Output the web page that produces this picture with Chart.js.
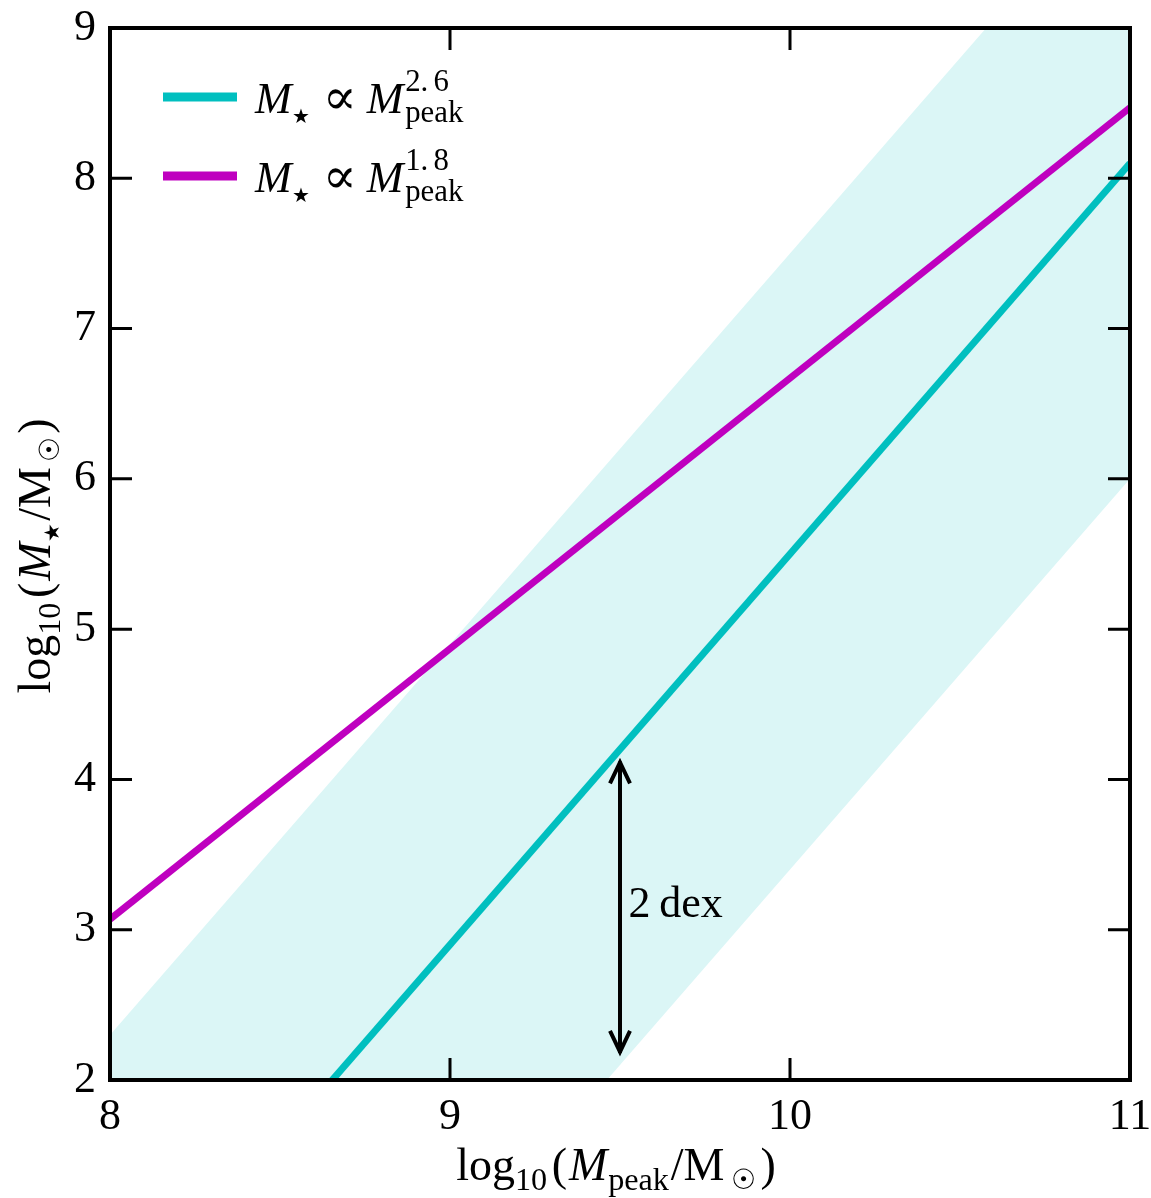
<!DOCTYPE html>
<html><head><meta charset="utf-8">
<script src="https://cdn.jsdelivr.net/npm/chart.js@4.4.0/dist/chart.umd.min.js"></script>
<style>html,body{margin:0;padding:0;background:#fff}#wrap{width:1151px;height:1198px;position:relative}</style>
</head><body><div id="wrap"><canvas id="c" width="1151" height="1198"></canvas></div>
<script>
// ---- data ----
const xTicks = [8, 9, 10, 11];
const yTicks = [2, 3, 4, 5, 6, 7, 8, 9];
const lineX = [8, 11];
const cyanY = [0.3, 8.1];        // M* ∝ Mpeak^2.6
const magentaY = [3.07, 8.47];   // M* ∝ Mpeak^1.8
const bandUpperY = [2.3, 10.1];
const bandLowerY = [-1.8, 6.0];
const arrowX = 9.5;
const arrowY = [2.18, 4.12];
const dexLabel = { x: 9.525, y: 3.16, text: '2\u2009dex' };
const seriesColors = ['#00bfbf', '#bf00bf'];
const legendExps = [['2.', '6'], ['1.', '8']];

const SERIF = '"Liberation Serif", "DejaVu Serif", serif';
const FS = 44;
const TFS = 46;
function font(size, italic, fam) { return (italic ? 'italic ' : '') + size + 'px ' + (fam || SERIF); }

function rich(ctx, segs, size, draw, x, y) {
  let cx = x || 0;
  for (const s of segs) {
    if (s.gap) { cx += s.gap * size; continue; }
    if (s.stack) {
      const fs = size * 0.7; ctx.font = font(fs, false);
      let sx = cx;
      for (let k = 0; k < s.sup.length; k++) {
        if (draw) ctx.fillText(s.sup[k], sx, y - size * 0.5);
        sx += ctx.measureText(s.sup[k]).width + (k < s.sup.length - 1 ? size * 0.12 : 0);
      }
      const w = Math.max(sx - cx, ctx.measureText(s.sub).width);
      if (draw) ctx.fillText(s.sub, cx, y + size * 0.2);
      cx += w; continue;
    }
    const sc = s.scale || (s.pos ? 0.7 : 1);
    ctx.font = font(size * sc, s.i, s.fam);
    const dy = s.pos === 'sub' ? size * (s.off || 0.22) : (s.pos === 'sup' ? -size * 0.45 : (s.dy || 0) * size);
    if (draw) ctx.fillText(s.t, cx, y + dy);
    cx += ctx.measureText(s.t).width;
  }
  return cx - (x || 0);
}

const xTitleSegs = [{t:'log'},{t:'10',pos:'sub'},{gap:0.1},{t:'('},{gap:0.04},{t:'M',i:true},{gap:0.02},{t:'peak',pos:'sub'},{gap:0.04},{t:'/M'},{gap:0.14},{t:'\u2609',pos:'sub',scale:0.6,off:0.2},{gap:0.1},{t:')'}];
const yTitleSegs = [{t:'log'},{t:'10',pos:'sub'},{gap:0.1},{t:'('},{gap:0.04},{t:'M',i:true},{t:'\u2605',pos:'sub',scale:0.45,off:0.2},{gap:0.06},{t:'/M'},{gap:0.1},{t:'\u2609',pos:'sub',scale:0.6,off:0.2},{gap:0.08},{t:')'}];
function legendSegs(exp) {
  return [{t:'M',i:true},{t:'\u2605',pos:'sub',scale:0.45,off:0.22},{gap:0.3},{t:'\u221D',scale:1.15,fam:'"DejaVu Serif", serif',dy:0.02},{gap:0.22},{t:'M',i:true},{gap:0.04},{stack:true,sup:exp,sub:'peak'}];
}

const decor = {
  id: 'decor',
  afterDatasetsDraw(chart) {
    const { ctx, chartArea: a, scales: { x, y } } = chart;
    ctx.save();
    ctx.strokeStyle = '#000'; ctx.fillStyle = '#000';
    // arrow
    const ax = x.getPixelForValue(arrowX);
    const y0 = y.getPixelForValue(arrowY[0]), y1 = y.getPixelForValue(arrowY[1]);
    ctx.lineWidth = 4; ctx.lineCap = 'butt'; ctx.lineJoin = 'miter';
    ctx.beginPath(); ctx.moveTo(ax, y0); ctx.lineTo(ax, y1); ctx.stroke();
    ctx.beginPath();
    ctx.moveTo(ax - 10, y1 + 22); ctx.lineTo(ax, y1 + 1); ctx.lineTo(ax + 10, y1 + 22);
    ctx.moveTo(ax - 10, y0 - 22); ctx.lineTo(ax, y0 - 1); ctx.lineTo(ax + 10, y0 - 22);
    ctx.stroke();
    ctx.font = font(44, false); ctx.textBaseline = 'middle'; ctx.textAlign = 'left';
    ctx.fillText(dexLabel.text, x.getPixelForValue(dexLabel.x), y.getPixelForValue(dexLabel.y));
    // ticks (inward, all four sides)
    ctx.lineWidth = 3;
    const L = 22;
    ctx.beginPath();
    for (const v of xTicks) { const p = x.getPixelForValue(v); ctx.moveTo(p, a.bottom); ctx.lineTo(p, a.bottom - L); ctx.moveTo(p, a.top); ctx.lineTo(p, a.top + L); }
    for (const v of yTicks) { const p = y.getPixelForValue(v); ctx.moveTo(a.left, p); ctx.lineTo(a.left + L, p); ctx.moveTo(a.right, p); ctx.lineTo(a.right - L, p); }
    ctx.stroke();
    ctx.lineWidth = 4;
    ctx.strokeRect(a.left, a.top, a.right - a.left, a.bottom - a.top);
    // legend
    ctx.textBaseline = 'alphabetic';
    for (let i = 0; i < 2; i++) {
      const ly = 97 + i * 79;
      ctx.strokeStyle = seriesColors[i]; ctx.lineWidth = 9;
      ctx.beginPath(); ctx.moveTo(163, ly); ctx.lineTo(237, ly); ctx.stroke();
      ctx.fillStyle = '#000';
      rich(ctx, legendSegs(legendExps[i]), FS, true, 255, ly + 16);
    }
    // axis titles
    const wx = rich(ctx, xTitleSegs, TFS, false, 0, 0);
    rich(ctx, xTitleSegs, TFS, true, 616 - wx / 2, 1180);
    const wy = rich(ctx, yTitleSegs, TFS, false, 0, 0);
    ctx.translate(50, 556); ctx.rotate(-Math.PI / 2);
    rich(ctx, yTitleSegs, TFS, true, -wy / 2, 0);
    ctx.restore();
  }
};

const pts = (ys) => lineX.map((v, i) => ({ x: v, y: ys[i] }));
function noPad(s) { s.paddingTop = 0; s.paddingBottom = 0; s.paddingLeft = 0; s.paddingRight = 0; }

new Chart(document.getElementById('c'), {
  type: 'scatter',
  data: {
    datasets: [
      { label: 'band upper', data: pts(bandUpperY), showLine: true, borderWidth: 0, pointRadius: 0, fill: '+1', backgroundColor: '#dbf6f6', borderColor: 'rgba(0,0,0,0)', order: 5, clip: 0 },
      { label: 'band lower', data: pts(bandLowerY), showLine: true, borderWidth: 0, pointRadius: 0, fill: false, borderColor: 'rgba(0,0,0,0)', order: 5, clip: 0 },
      { label: 'M* ∝ Mpeak^2.6', data: pts(cyanY), showLine: true, borderWidth: 7, pointRadius: 0, borderColor: seriesColors[0], fill: false, order: 1, clip: 0 },
      { label: 'M* ∝ Mpeak^1.8', data: pts(magentaY), showLine: true, borderWidth: 7, pointRadius: 0, borderColor: seriesColors[1], fill: false, order: 0, clip: 0 }
    ]
  },
  options: {
    responsive: false, animation: false, devicePixelRatio: 1,
    layout: { padding: { top: 28, right: 21, left: 0, bottom: 0 } },
    plugins: { legend: { display: false }, tooltip: { enabled: false } },
    scales: {
      x: {
        type: 'linear', min: 8, max: 11,
        afterFit(s) { s.height = 118; noPad(s); },
        afterBuildTicks(s) { s.ticks = xTicks.map(v => ({ value: v })); },
        grid: { display: false, drawTicks: false }, border: { display: false },
        ticks: { color: '#000', padding: 11, font: { family: SERIF, size: FS }, callback: v => String(v) }
      },
      y: {
        type: 'linear', min: 2, max: 9,
        afterFit(s) { s.width = 110; noPad(s); },
        afterBuildTicks(s) { s.ticks = yTicks.map(v => ({ value: v })); },
        grid: { display: false, drawTicks: false }, border: { display: false },
        ticks: { color: '#000', padding: 14, font: { family: SERIF, size: FS }, callback: v => String(v) }
      }
    }
  },
  plugins: [decor]
});
</script></body></html>
